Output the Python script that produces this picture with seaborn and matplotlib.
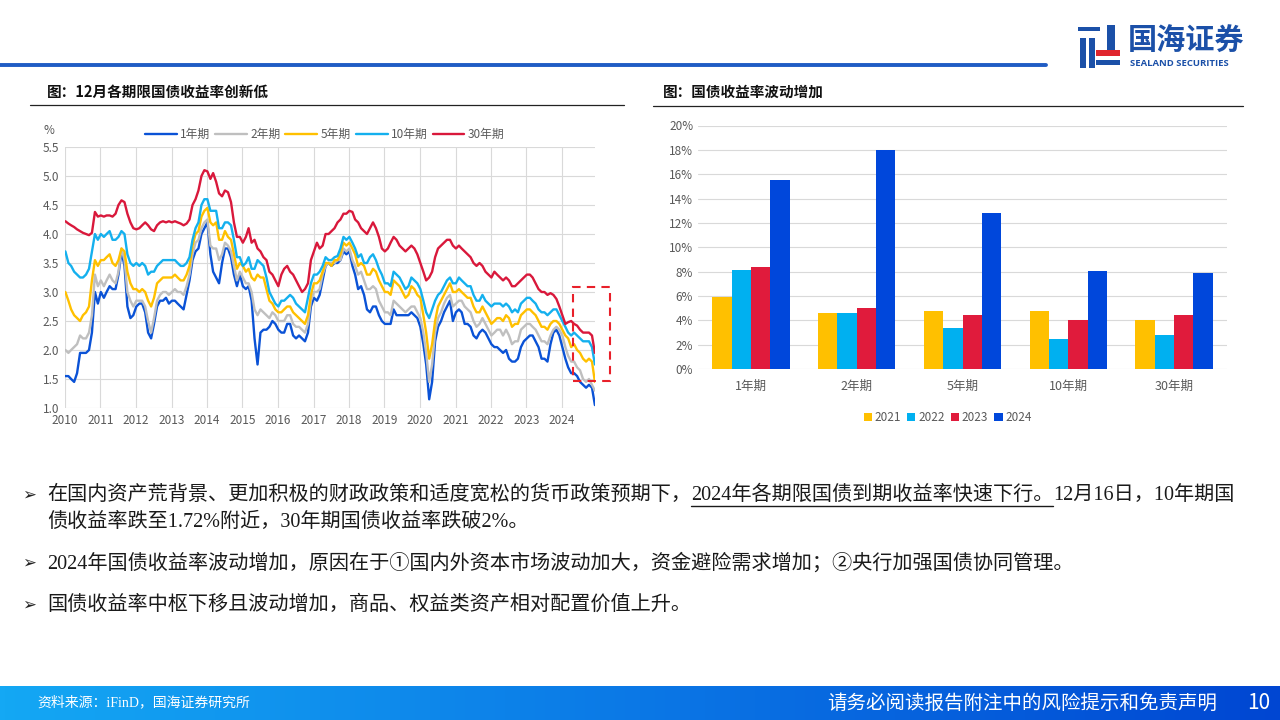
import matplotlib
matplotlib.use("Agg")
import matplotlib.pyplot as plt
import matplotlib.dates as mdates
from matplotlib.colors import LinearSegmentedColormap
from matplotlib.patches import Rectangle
from matplotlib.lines import Line2D
import numpy as np
import pandas as pd
import seaborn as sns

# ---- data: month-by-month yields (%)
tenors = ["1年期", "2年期", "5年期", "10年期", "30年期"]

y1 = [1.55, 1.55, 1.5, 1.45, 1.6, 1.95, 1.95, 1.95, 2.0, 2.3, 3.0, 2.8,
      3.0, 2.9, 3.0, 3.1, 3.05, 3.05, 3.3, 3.7, 3.45, 2.75, 2.55, 2.6,
      2.75, 2.8, 2.8, 2.65, 2.3, 2.2, 2.45, 2.75, 2.85, 2.85, 2.9, 2.8,
      2.85, 2.85, 2.8, 2.75, 2.7, 2.95, 3.2, 3.55, 3.7, 3.75, 4.0, 4.1,
      4.2, 3.65, 3.35, 3.25, 3.15, 3.5, 3.75, 3.75, 3.6, 3.3, 3.1, 3.3,
      3.1, 3.05, 3.1, 2.85, 2.2, 1.75, 2.3, 2.35, 2.35, 2.4, 2.5, 2.45,
      2.35, 2.3, 2.3, 2.45, 2.45, 2.25, 2.2, 2.25, 2.2, 2.15, 2.3, 2.75,
      2.9, 2.85, 2.95, 3.2, 3.45, 3.5, 3.45, 3.5, 3.5, 3.55, 3.7, 3.65,
      3.7, 3.45, 3.3, 3.05, 3.1, 2.95, 2.7, 2.65, 2.75, 2.75, 2.6, 2.5,
      2.45, 2.45, 2.45, 2.7, 2.6, 2.6, 2.6, 2.6, 2.6, 2.65, 2.6, 2.55,
      2.4, 2.1, 1.75, 1.15, 1.45, 2.15, 2.4, 2.5, 2.65, 2.75, 2.85, 2.5,
      2.65, 2.7, 2.65, 2.45, 2.45, 2.4, 2.25, 2.2, 2.3, 2.35, 2.3, 2.2,
      2.1, 2.05, 2.05, 2.0, 1.95, 2.0, 1.85, 1.8, 1.8, 1.85, 2.05, 2.15,
      2.2, 2.25, 2.25, 2.15, 2.05, 1.85, 1.85, 1.8, 2.1, 2.3, 2.35, 2.25,
      2.05, 1.85, 1.7, 1.6, 1.6, 1.55, 1.45, 1.4, 1.35, 1.4, 1.35, 1.05]

y2 = [2.0, 1.95, 2.0, 2.05, 2.1, 2.25, 2.2, 2.2, 2.3, 2.6, 3.3, 3.1,
      3.2, 3.1, 3.2, 3.3, 3.2, 3.15, 3.35, 3.75, 3.55, 3.0, 2.85, 2.75,
      2.85, 2.85, 2.85, 2.75, 2.5, 2.3, 2.55, 2.85, 2.95, 3.0, 3.0, 2.95,
      3.0, 3.05, 3.0, 3.0, 2.95, 3.1, 3.3, 3.65, 3.85, 3.9, 4.1, 4.2,
      4.25, 3.8, 3.75, 3.75, 3.55, 3.65, 3.85, 3.8, 3.7, 3.45, 3.2, 3.35,
      3.25, 3.15, 3.15, 3.0, 2.7, 2.6, 2.7, 2.65, 2.6, 2.55, 2.65, 2.6,
      2.5, 2.5, 2.5, 2.6, 2.6, 2.45, 2.4, 2.4, 2.35, 2.3, 2.45, 2.85,
      3.0, 3.0, 3.05, 3.3, 3.45, 3.5, 3.5, 3.5, 3.55, 3.55, 3.75, 3.7,
      3.75, 3.55, 3.45, 3.3, 3.35, 3.2, 3.05, 3.05, 3.1, 3.05, 2.85, 2.75,
      2.65, 2.65, 2.6, 2.85, 2.8, 2.75, 2.7, 2.65, 2.7, 2.75, 2.75, 2.65,
      2.55, 2.3, 1.95, 1.45, 1.75, 2.3, 2.55, 2.65, 2.8, 2.9, 2.95, 2.75,
      2.8, 2.85, 2.85, 2.75, 2.7, 2.65, 2.5, 2.4, 2.45, 2.55, 2.45, 2.35,
      2.25, 2.3, 2.35, 2.35, 2.25, 2.35, 2.25, 2.1, 2.15, 2.15, 2.35, 2.4,
      2.45, 2.45, 2.4, 2.35, 2.25, 2.15, 2.15, 2.1, 2.25, 2.35, 2.4, 2.35,
      2.25, 2.05, 1.9, 1.8, 1.8, 1.7, 1.65, 1.5, 1.45, 1.5, 1.4, 1.3]

y5 = [3.0, 2.85, 2.7, 2.6, 2.55, 2.5, 2.6, 2.65, 2.75, 3.2, 3.55, 3.45,
      3.55, 3.55, 3.6, 3.65, 3.5, 3.45, 3.55, 3.75, 3.7, 3.35, 3.15, 3.05,
      3.05, 3.0, 3.05, 3.0, 2.85, 2.75, 2.9, 3.15, 3.2, 3.25, 3.25, 3.25,
      3.25, 3.3, 3.25, 3.2, 3.2, 3.3, 3.45, 3.8, 4.0, 4.05, 4.3, 4.4,
      4.45, 4.2, 4.15, 4.2, 3.9, 3.9, 4.05, 3.95, 3.9, 3.65, 3.4, 3.5,
      3.45, 3.35, 3.4, 3.25, 3.2, 3.3, 3.25, 3.25, 3.05, 2.85, 2.8, 2.7,
      2.65, 2.65, 2.7, 2.75, 2.75, 2.65, 2.6, 2.55, 2.5, 2.45, 2.6, 2.95,
      3.15, 3.15, 3.2, 3.35, 3.5, 3.5, 3.45, 3.55, 3.55, 3.65, 3.85, 3.8,
      3.85, 3.75, 3.65, 3.45, 3.5, 3.45, 3.3, 3.3, 3.4, 3.35, 3.2, 3.1,
      3.0, 3.0, 2.95, 3.2, 3.15, 3.1, 3.0, 2.9, 2.95, 3.1, 3.05, 2.95,
      2.9, 2.6, 2.3, 1.85, 2.1, 2.5, 2.75, 2.85, 2.95, 3.05, 3.15, 3.0,
      3.0, 3.05, 3.0, 2.95, 2.9, 2.9, 2.75, 2.65, 2.65, 2.75, 2.65, 2.55,
      2.45, 2.5, 2.55, 2.55, 2.5, 2.6, 2.55, 2.4, 2.45, 2.45, 2.6, 2.65,
      2.7, 2.7, 2.65, 2.6, 2.5, 2.4, 2.4, 2.35, 2.45, 2.5, 2.5, 2.45,
      2.35, 2.25, 2.2, 2.05, 2.1, 2.0, 1.95, 1.85, 1.8, 1.85, 1.8, 1.45]

y10 = [3.7, 3.5, 3.45, 3.35, 3.3, 3.25, 3.25, 3.3, 3.4, 3.7, 4.0, 3.9,
       4.0, 3.95, 4.0, 4.05, 3.9, 3.9, 3.95, 4.05, 4.0, 3.65, 3.5, 3.45,
       3.5, 3.45, 3.5, 3.45, 3.3, 3.35, 3.35, 3.45, 3.5, 3.55, 3.55, 3.55,
       3.55, 3.55, 3.5, 3.45, 3.45, 3.5, 3.6, 3.9, 4.1, 4.2, 4.5, 4.6,
       4.6, 4.4, 4.4, 4.4, 4.1, 4.1, 4.2, 4.2, 4.15, 3.9, 3.6, 3.6,
       3.45, 3.5, 3.6, 3.4, 3.4, 3.55, 3.5, 3.45, 3.25, 3.0, 2.9, 2.8,
       2.75, 2.85, 2.85, 2.9, 2.95, 2.9, 2.8, 2.75, 2.7, 2.65, 2.9, 3.15,
       3.3, 3.3, 3.35, 3.45, 3.6, 3.55, 3.55, 3.6, 3.62, 3.75, 3.95, 3.9,
       3.95, 3.85, 3.75, 3.6, 3.65, 3.5, 3.5, 3.6, 3.65, 3.55, 3.4, 3.3,
       3.15, 3.15, 3.1, 3.35, 3.3, 3.25, 3.15, 3.05, 3.1, 3.25, 3.2, 3.15,
       3.05, 2.85, 2.65, 2.55, 2.7, 2.85, 2.95, 3.0, 3.1, 3.2, 3.25, 3.15,
       3.15, 3.25, 3.2, 3.15, 3.1, 3.1, 2.95, 2.85, 2.85, 2.95, 2.85, 2.8,
       2.75, 2.8, 2.8, 2.8, 2.75, 2.8, 2.75, 2.65, 2.7, 2.65, 2.8, 2.85,
       2.9, 2.9, 2.85, 2.8, 2.7, 2.65, 2.65, 2.6, 2.65, 2.7, 2.7, 2.6,
       2.5, 2.4, 2.3, 2.25, 2.3, 2.25, 2.2, 2.15, 2.15, 2.15, 2.05, 1.75]

y30 = [4.22, 4.18, 4.15, 4.12, 4.08, 4.05, 4.02, 4.0, 3.98, 4.02, 4.38, 4.3,
       4.32, 4.3, 4.32, 4.32, 4.3, 4.35, 4.5, 4.58, 4.55, 4.35, 4.2, 4.1,
       4.08, 4.1, 4.15, 4.2, 4.15, 4.08, 4.05, 4.15, 4.2, 4.22, 4.2, 4.22,
       4.2, 4.22, 4.2, 4.18, 4.15, 4.18, 4.25, 4.5, 4.6, 4.75, 5.0, 5.1,
       5.08, 4.95, 5.05, 4.9, 4.7, 4.65, 4.75, 4.72, 4.55, 4.2, 3.95, 3.95,
       3.85, 3.95, 4.1, 3.85, 3.9, 3.75, 3.7, 3.6, 3.55, 3.35, 3.3, 3.2,
       3.1, 3.3, 3.4, 3.45, 3.35, 3.3, 3.2, 3.1, 3.0, 3.05, 3.15, 3.55,
       3.7, 3.85, 3.75, 3.8, 4.0, 4.0, 4.05, 4.1, 4.2, 4.25, 4.35, 4.35,
       4.4, 4.38, 4.25, 4.2, 4.1, 4.05, 4.0, 4.1, 4.2, 4.1, 3.95, 3.75,
       3.7, 3.75, 3.85, 3.95, 3.9, 3.8, 3.75, 3.7, 3.75, 3.8, 3.75, 3.65,
       3.5, 3.35, 3.2, 3.25, 3.35, 3.6, 3.75, 3.8, 3.85, 3.9, 3.9, 3.8,
       3.75, 3.8, 3.75, 3.7, 3.65, 3.6, 3.5, 3.45, 3.5, 3.45, 3.35, 3.3,
       3.25, 3.35, 3.3, 3.25, 3.2, 3.25, 3.2, 3.1, 3.1, 3.15, 3.2, 3.25,
       3.3, 3.3, 3.25, 3.15, 3.05, 3.0, 3.0, 2.95, 2.98, 2.95, 2.88, 2.75,
       2.6, 2.45, 2.48, 2.5, 2.45, 2.42, 2.35, 2.3, 2.3, 2.3, 2.25, 1.95]

# ---- data: yield volatility by tenor (%), right chart
vol_years = ["2021", "2022", "2023", "2024"]
vol_2021 = [5.9, 4.6, 4.8, 4.8, 4.0]
vol_2022 = [8.1, 4.6, 3.4, 2.5, 2.8]
vol_2023 = [8.4, 5.05, 4.4, 4.0, 4.4]
vol_2024 = [15.55, 17.95, 12.8, 8.05, 7.85]

line_colors = ["#0A52D6", "#BFBFBF", "#FFC000", "#14B0EE", "#D9183B"]
bar_colors = ["#FFC000", "#00B0F0", "#E01B3C", "#0047DB"]

W, H = 1280, 720


def fx(px):
    return px / W


def fy(py):
    return 1 - py / H


sns.set_theme(style="white")
plt.rcParams["font.family"] = ["Noto Sans CJK SC", "DejaVu Sans"]
plt.rcParams["axes.unicode_minus"] = False
serif_mix = ["Liberation Serif", "Noto Sans CJK SC", "DejaVu Sans"]

fig = plt.figure(figsize=(12.8, 7.2), dpi=100)
fig.patch.set_facecolor("white")

# ---- left chart: yields
dates = pd.date_range("2010-01-01", periods=len(y1), freq="MS") + pd.Timedelta(days=4)
df_yield = pd.DataFrame({"date": dates, "1年期": y1, "2年期": y2, "5年期": y5,
                         "10年期": y10, "30年期": y30})
df_yield = df_yield.melt(id_vars="date", var_name="tenor", value_name="yield")

ax1 = fig.add_axes([fx(65), fy(408), fx(595) - fx(65), fy(147) - fy(408)])
sns.lineplot(data=df_yield, x="date", y="yield", hue="tenor", hue_order=tenors,
             palette=dict(zip(tenors, line_colors)), linewidth=1.7, ax=ax1)
ax1.set_xlim(pd.Timestamp("2010-01-01"), pd.Timestamp("2024-12-06"))
ax1.set_ylim(1.0, 5.5)
ax1.set_yticks(np.arange(1.0, 5.51, 0.5))
ax1.yaxis.set_major_formatter(plt.FormatStrFormatter("%.1f"))
ax1.xaxis.set_major_locator(mdates.YearLocator())
ax1.xaxis.set_major_formatter(mdates.DateFormatter("%Y"))
ax1.grid(True, color="#D9D9D9", linewidth=0.8)
for s in ax1.spines.values():
    s.set_visible(False)
ax1.tick_params(axis="both", length=0, labelsize=8.5, labelcolor="#595959", pad=4)
ax1.set_xlabel("")
ax1.set_ylabel("")
ax1.legend(ncol=5, loc="lower center", bbox_to_anchor=(0.49, 1.0), frameon=False,
           fontsize=8.5, labelcolor="#595959", handlelength=2.7, handletextpad=0.3,
           columnspacing=0.4, borderaxespad=0.1)
fig.text(fx(44), fy(130), "%", fontsize=8.5, color="#595959", va="center")

# dashed highlight box around the latest readings
box_x0 = mdates.date2num(pd.Timestamp("2024-04-25"))
box_x1 = mdates.date2num(pd.Timestamp("2025-05-10"))
ax1.add_patch(Rectangle((box_x0, 1.47), box_x1 - box_x0, 3.09 - 1.47, fill=False,
                        edgecolor="#E8202A", linestyle=(0, (4, 3)), linewidth=1.5,
                        clip_on=False, zorder=5))

# ---- right chart: volatility bars
df_vol = pd.DataFrame({"tenor": tenors, "2021": vol_2021, "2022": vol_2022,
                       "2023": vol_2023, "2024": vol_2024})
df_vol = df_vol.melt(id_vars="tenor", var_name="year", value_name="vol")

ax2 = fig.add_axes([fx(698), fy(369), fx(1227) - fx(698), fy(125.5) - fy(369)])
sns.barplot(data=df_vol, x="tenor", y="vol", hue="year", hue_order=vol_years,
            palette=bar_colors, saturation=1, width=0.73, linewidth=0, ax=ax2)
ax2.set_xlim(-0.5, 4.5)
ax2.set_ylim(0, 20)
ax2.set_yticks(np.arange(0, 21, 2))
ax2.set_yticklabels([f"{v}%" for v in range(0, 21, 2)])
ax2.yaxis.grid(True, color="#D9D9D9", linewidth=0.8)
ax2.set_axisbelow(True)
for s in ax2.spines.values():
    s.set_visible(False)
ax2.tick_params(axis="both", length=0, labelsize=8.5, labelcolor="#595959")
ax2.tick_params(axis="x", labelsize=9, pad=8)
ax2.set_xlabel("")
ax2.set_ylabel("")
ax2.legend(ncol=4, loc="center", bbox_to_anchor=(0.472, -0.2), frameon=False,
           fontsize=8.5, labelcolor="#595959", handlelength=0.7, handleheight=0.7,
           handletextpad=0.25, columnspacing=0.5)

# ---- panel titles
fig.text(fx(47), fy(92), "图：12月各期限国债收益率创新低", fontsize=10.5,
         fontweight="bold", color="#111111", va="center")
fig.text(fx(663), fy(92), "图：国债收益率波动增加", fontsize=10.5,
         fontweight="bold", color="#111111", va="center")
fig.add_artist(Line2D([fx(30), fx(624)], [fy(105), fy(105)], color="#222222", lw=0.9))
fig.add_artist(Line2D([fx(653), fx(1243)], [fy(106), fy(106)], color="#222222", lw=0.9))

# ---- header rule and logo
fig.add_artist(Line2D([0, fx(1046)], [fy(65), fy(65)], color="#1F5CC4", lw=2.8))
logo_blue = "#1B50A8"
for (x0, y0, w, h, c) in [(1078, 27, 22, 4, logo_blue), (1080, 38, 6, 30, logo_blue),
                          (1089, 38, 6, 30, logo_blue), (1107, 25, 8, 30, logo_blue),
                          (1096, 50, 24, 6, "#E0262E"), (1096, 60, 24, 5, logo_blue)]:
    fig.add_artist(Rectangle((fx(x0), fy(y0 + h)), w / W, h / H, color=c, lw=0))
fig.text(fx(1128), fy(41), "国海证券", fontsize=21, fontweight="bold",
         color=logo_blue, va="center")
fig.text(fx(1130), fy(63), "SEALAND SECURITIES", fontsize=6.8, fontweight="bold",
         color=logo_blue, va="center", family=["Open Sans", "DejaVu Sans"])

# ---- body text with bullets
fig.canvas.draw()
renderer = fig.canvas.get_renderer()
body_size = 14.5
body_color = "#1A1A1A"


def put_runs(x, y, runs):
    for txt, under in runs:
        t = fig.text(fx(x), fy(y), txt, fontsize=body_size, color=body_color,
                     va="center", family=serif_mix)
        bb = t.get_window_extent(renderer)
        if under:
            fig.add_artist(Line2D([fx(bb.x0), fx(bb.x1)], [fy(y + 11), fy(y + 11)],
                                  color=body_color, lw=1.0))
        x = bb.x1


for yb in [495, 563, 605]:
    fig.text(fx(22), fy(yb), "➢", fontsize=12, color="#222222", va="center",
             family=["DejaVu Sans"])

put_runs(47, 495, [("在国内资产荒背景、更加积极的财政政策和适度宽松的货币政策预期下，", False),
                   ("2024年各期限国债到期收益率快速下行。", True),
                   ("12月16日，10年期国", False)])
put_runs(47, 522, [("债收益率跌至1.72%附近，30年期国债收益率跌破2%。", False)])
put_runs(47, 563, [("2024年国债收益率波动增加，原因在于①国内外资本市场波动加大，资金避险需求增加；②央行加强国债协同管理。", False)])
put_runs(47, 605, [("国债收益率中枢下移且波动增加，商品、权益类资产相对配置价值上升。", False)])

# ---- footer band
axf = fig.add_axes([0, 0, 1, 34 / H])
axf.imshow(np.linspace(0, 1, 256)[None, :], aspect="auto",
           cmap=LinearSegmentedColormap.from_list("band", ["#14A8F4", "#0B78E6", "#0046D2"]),
           extent=(0, 1, 0, 1))
axf.set_axis_off()
fig.text(fx(37), fy(702), "资料来源：iFinD，国海证券研究所", fontsize=10,
         color="white", va="center", family=serif_mix)
fig.text(fx(1217), fy(703), "请务必阅读报告附注中的风险提示和免责声明", fontsize=14,
         color="white", va="center", ha="right")
fig.text(fx(1270), fy(703), "10", fontsize=15, color="white", va="center", ha="right")

plt.savefig("out.png", dpi=100)
